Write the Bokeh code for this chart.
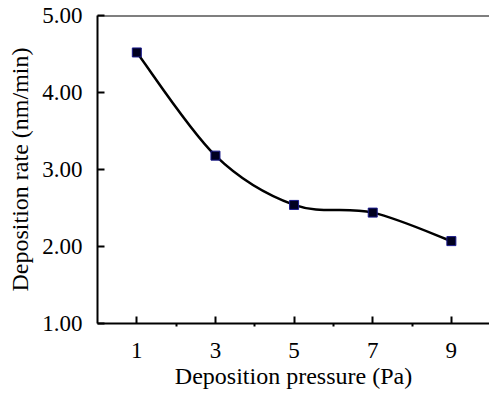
import numpy as np
from bokeh.plotting import figure
from bokeh.models import Range1d, FixedTicker, NumeralTickFormatter, Span
from bokeh.embed import file_html
from bokeh.resources import INLINE

pressure = [1, 3, 5, 7, 9]
rate = [4.52, 3.18, 2.54, 2.44, 2.07]
y_ticks = [1, 2, 3, 4, 5]
x_title = "Deposition pressure (Pa)"
y_title = "Deposition rate (nm/min)"

FONT = "Liberation Serif"

p = figure(width=489, height=395, output_backend="svg", toolbar_location=None,
           x_range=Range1d(0, 9.97), y_range=Range1d(1, 5),
           min_border_left=97, min_border_right=0, min_border_top=15, min_border_bottom=72)
p.outline_line_color = None
p.grid.visible = False
p.background_fill_color = "white"
p.border_fill_color = "white"

# Smoothed curve (Catmull-Rom style Bezier, as in spreadsheet smoothing)
xs = np.array(pressure, dtype=float)
ys = np.array(rate, dtype=float)
n = len(xs)
x0, y0, x1, y1, cx0, cy0, cx1, cy1 = [], [], [], [], [], [], [], []
for i in range(n - 1):
    pm = max(i - 1, 0)
    pn = min(i + 2, n - 1)
    x0.append(xs[i]); y0.append(ys[i])
    x1.append(xs[i + 1]); y1.append(ys[i + 1])
    cx0.append(xs[i] + (xs[i + 1] - xs[pm]) / 6)
    cy0.append(ys[i] + (ys[i + 1] - ys[pm]) / 6)
    cx1.append(xs[i + 1] - (xs[pn] - xs[i]) / 6)
    cy1.append(ys[i + 1] - (ys[pn] - ys[i]) / 6)
p.bezier(x0=x0, y0=y0, x1=x1, y1=y1, cx0=cx0, cy0=cy0, cx1=cx1, cy1=cy1,
         line_color="black", line_width=2.5)

p.scatter(pressure, rate, marker="square", size=9, fill_color="#000020",
          line_color="#1a1a8c", line_width=1)

# top border line
p.add_layout(Span(location=5, dimension="width", line_color="black", line_width=2))

# x axis
xa = p.xaxis[0]
xa.ticker = FixedTicker(ticks=pressure, minor_ticks=[2, 4, 6, 8])
xa.major_label_overrides = {v: str(v) for v in pressure}
xa.axis_line_width = 2
xa.axis_line_color = "black"
xa.major_tick_in = 7
xa.major_tick_out = 0
xa.major_tick_line_width = 2
xa.minor_tick_in = 0
xa.minor_tick_out = 3
xa.minor_tick_line_width = 2
xa.major_label_text_font = FONT
xa.major_label_text_font_size = "23px"
xa.major_label_text_color = "black"
xa.major_label_standoff = 16
xa.axis_label = x_title
xa.axis_label_text_font = FONT
xa.axis_label_text_font_size = "24px"
xa.axis_label_text_font_style = "normal"
xa.axis_label_text_color = "black"
xa.axis_label_standoff = 2

# y axis
ya = p.yaxis[0]
ya.ticker = FixedTicker(ticks=y_ticks)
ya.formatter = NumeralTickFormatter(format="0.00")
ya.axis_line_width = 2
ya.axis_line_color = "black"
ya.major_tick_in = 7
ya.major_tick_out = 0
ya.major_tick_line_width = 2
ya.minor_tick_in = 0
ya.minor_tick_out = 0
ya.major_label_text_font = FONT
ya.major_label_text_font_size = "23px"
ya.major_label_text_color = "black"
ya.major_label_standoff = 15
ya.axis_label = y_title
ya.axis_label_text_font = FONT
ya.axis_label_text_font_size = "24px"
ya.axis_label_text_font_style = "normal"
ya.axis_label_text_color = "black"
ya.axis_label_standoff = 6

open("out.html", "w").write(file_html(p, INLINE))
